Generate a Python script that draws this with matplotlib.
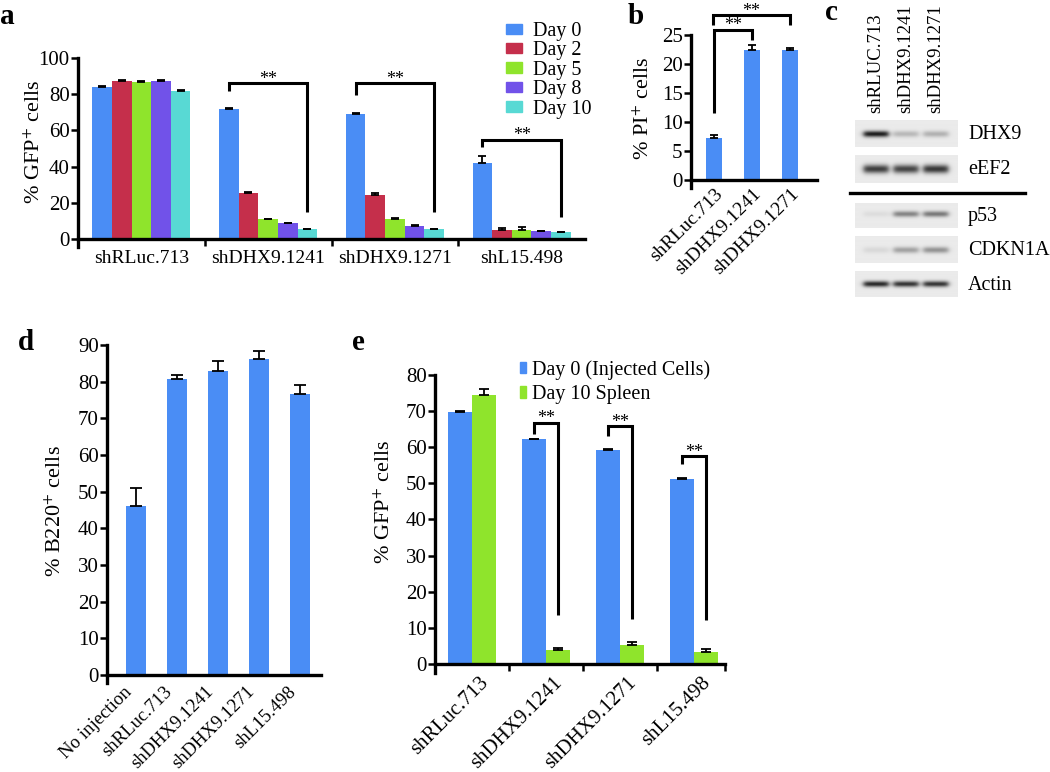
import numpy as np
import matplotlib
matplotlib.use('Agg')
import matplotlib.pyplot as plt
import matplotlib.transforms as mtrans
from matplotlib.patches import Patch

plt.rcParams['font.family'] = ['Liberation Serif', 'DejaVu Serif']
plt.rcParams['mathtext.fontset'] = 'stix'

# ------------------------------------------------------------------ data
# panel a
a_groups = ['shRLuc.713', 'shDHX9.1241', 'shDHX9.1271', 'shL15.498']
a_days = ['Day 0', 'Day 2', 'Day 5', 'Day 8', 'Day 10']
a_day0 = [83.8, 71.6, 69.0, 42.0]
a_day2 = [87.5, 25.5, 24.5, 5.0]
a_day5 = [86.9, 11.0, 11.0, 5.0]
a_day8 = [87.2, 8.7, 7.4, 4.2]
a_day10 = [81.9, 5.4, 5.5, 3.8]
a_err0 = [1.0, 0.8, 0.5, 3.6]
a_err2 = [0.3, 0.5, 1.2, 1.0]
a_err5 = [0.6, 0.3, 0.6, 1.4]
a_err8 = [0.4, 0.3, 0.4, 0.3]
a_err10 = [0.5, 0.2, 0.2, 0.3]
a_sig_groups = [1, 2, 3]
a_sig_top = [86.0, 86.0, 54.7]
a_sig_left = [82.0, 79.5, 50.8]
a_sig_right = [15.0, 15.0, 12.2]

# panel b
b_labels = ['shRLuc.713', 'shDHX9.1241', 'shDHX9.1271']
b_values = [7.2, 22.4, 22.4]
b_err = [0.6, 0.9, 0.3]

# panel c (western blot band intensities, 0 = none, 1 = saturated)
c_lanes = ['shRLUC.713', 'shDHX9.1241', 'shDHX9.1271']
c_rows = ['DHX9', 'eEF2', 'p53', 'CDKN1A', 'Actin']
c_dhx9 = [0.90, 0.22, 0.25]
c_eef2 = [0.75, 0.72, 0.78]
c_p53 = [0.06, 0.45, 0.50]
c_cdkn1a = [0.08, 0.32, 0.38]
c_actin = [0.85, 0.80, 0.80]

# panel d
d_labels = ['No injection', 'shRLuc.713', 'shDHX9.1241', 'shDHX9.1271', 'shL15.498']
d_values = [46.0, 80.8, 82.9, 86.3, 76.6]
d_err = [5.1, 0.9, 2.6, 2.0, 2.4]

# panel e
e_labels = ['shRLuc.713', 'shDHX9.1241', 'shDHX9.1271', 'shL15.498']
e_series = ['Day 0 (Injected Cells)', 'Day 10 Spleen']
e_day0 = [69.7, 62.2, 59.3, 51.3]
e_day10 = [74.6, 3.8, 5.2, 3.2]
e_err0 = [0.2, 0.2, 0.2, 0.2]
e_err10 = [1.6, 0.6, 1.0, 0.9]
e_sig_groups = [1, 2, 3]
e_sig_top = [66.7, 65.8, 57.5]
e_sig_left = [63.8, 63.0, 55.3]
e_sig_right = [13.6, 12.4, 12.2]

# ------------------------------------------------------------------ style
BLUE = '#4a8df5'
RED = '#c52f4b'
GREEN = '#8fe42c'
PURPLE = '#7152e9'
CYAN = '#58d9d4'
day_colors = [BLUE, RED, GREEN, PURPLE, CYAN]

W, H = 1050, 772
fig = plt.figure(figsize=(W / 100, H / 100), dpi=100)

SPINE = 2.4
YTICKFS = 15
XTICKFS = 14


def add_ax(l, t, r, b):
    return fig.add_axes([l / W, 1 - b / H, (r - l) / W, (b - t) / H])


def style(ax):
    for s in ['top', 'right']:
        ax.spines[s].set_visible(False)
    ax.spines['left'].set_linewidth(SPINE)
    ax.spines['bottom'].set_linewidth(SPINE)
    ax.spines['bottom'].set_position(('data', 0))
    ax.tick_params(axis='y', direction='out', length=5, width=1.8, labelsize=YTICKFS, pad=1)
    ax.tick_params(axis='x', direction='out', length=5, width=1.8, labelsize=XTICKFS)
    ax.patch.set_alpha(0)


def bracket(ax, x1, x2, ytop, yl, yr, fs=13):
    ax.plot([x1, x1, x2, x2], [yl, ytop, ytop, yr], color='k', lw=2.2,
            clip_on=False, solid_joinstyle='miter', solid_capstyle='butt')
    ax.annotate('**', xy=((x1 + x2) / 2, ytop), xytext=(0, 3), textcoords='offset points',
                ha='center', va='center', fontsize=fs, annotation_clip=False)


def shift_labels(ax, dx_px, dy_px, minor=False):
    off = mtrans.ScaledTranslation(dx_px / 100, -dy_px / 100, fig.dpi_scale_trans)
    for lab in ax.get_xticklabels(minor=minor):
        lab.set_transform(lab.get_transform() + off)


def ylab(x, y, s):
    fig.text(x / W, 1 - y / H, s, rotation=90, ha='center', va='center', fontsize=16)


def letter(x, y, s):
    fig.text(x / W, 1 - y / H, s, ha='center', va='center', fontsize=21, fontweight='bold')


EKW = dict(ecolor='k', elinewidth=1.3, capthick=1.3)

# ------------------------------------------------------------------ panel a
ax = add_ax(78, 58, 585, 247)
style(ax)
xg = np.arange(len(a_groups))
bw = 0.155
a_vals = [a_day0, a_day2, a_day5, a_day8, a_day10]
a_errs = [a_err0, a_err2, a_err5, a_err8, a_err10]
for i in range(5):
    ax.bar(xg + (i - 2) * bw, a_vals[i], bw, color=day_colors[i], label=a_days[i],
           yerr=[np.zeros(4), a_errs[i]], capsize=3, error_kw=EKW)
ax.set_xlim(-0.5, 3.5)
ax.set_ylim(-4.4, 100)
ax.set_yticks([0, 20, 40, 60, 80, 100])
ax.set_xticks([0.5, 1.5, 2.5])
ax.set_xticklabels([])
ax.set_xticks(xg, minor=True)
ax.set_xticklabels(a_groups, minor=True)
ax.tick_params(axis='x', which='minor', length=0, pad=8, labelsize=XTICKFS)
for g, t, l, r in zip(a_sig_groups, a_sig_top, a_sig_left, a_sig_right):
    bracket(ax, g - 2 * bw, g + 2 * bw, t, l, r)
ylab(35, 142, '% GFP$^{+}$ cells')
letter(7, 16, 'a')
handles = [Patch(color=c) for c in day_colors]
fig.legend(handles, a_days, loc='upper left', bbox_to_anchor=(506 / W, 1 - 22 / H),
           frameon=False, fontsize=14.5, handlelength=0.78, handleheight=0.42,
           handletextpad=0.55, labelspacing=0.02, borderpad=0, borderaxespad=0)

# ------------------------------------------------------------------ panel b
ax = add_ax(691, 35, 817, 188)
style(ax)
xb = np.arange(len(b_labels))
ax.bar(xb, b_values, 0.42, color=BLUE, yerr=[np.zeros(3), b_err], capsize=3, error_kw=EKW)
ax.set_xlim(-0.605, 2.71)
ax.set_ylim(-1.4, 25)
ax.set_yticks([0, 5, 10, 15, 20, 25])
ax.set_xticks(xb)
ax.set_xticklabels(b_labels, rotation=45, ha='right', va='top', rotation_mode='anchor')
ax.tick_params(axis='x', length=0, pad=4)
bracket(ax, 0, 1, 25.9, 11.5, 24.2)
bracket(ax, -0.02, 2, 28.4, 26.7, 26.7)
ylab(644, 108, '% PI$^{+}$ cells')
letter(636, 17, 'b')

# ------------------------------------------------------------------ panel c
axc = fig.add_axes([0, 0, 1, 1])
axc.set_xlim(0, W)
axc.set_ylim(H, 0)
axc.axis('off')
axc.patch.set_alpha(0)
box_l, box_r = 855, 958
lane_x = [876, 906, 936]
row_boxes = [(120, 147, 134, 3.2), (155, 183, 169, 4.4), (203, 228, 214, 3.0),
             (236, 263, 250, 3.2), (271, 297, 284, 3.0)]
c_data = [c_dhx9, c_eef2, c_p53, c_cdkn1a, c_actin]
for (top, bot, yc, sy), vals, name in zip(row_boxes, c_data, c_rows):
    xs = np.linspace(box_l, box_r, 206)
    ys = np.linspace(top, bot, 60)
    X, Y = np.meshgrid(xs, ys)
    img = np.full(X.shape, 0.92)
    for lx, v in zip(lane_x, vals):
        wx = 1 / (1 + np.exp((np.abs(X - lx) - 12.5) / 1.5))
        wy = np.exp(-((Y - yc) / sy) ** 2)
        img -= 0.9 * v * wx * wy
    axc.imshow(img, extent=(box_l, box_r, bot, top), cmap='gray', vmin=0, vmax=1,
               aspect='auto', interpolation='bilinear')
    axc.text(968, (top + bot) / 2 + 1, name, ha='left', va='center', fontsize=14.5)
axc.plot([850, 1025], [193, 193], color='k', lw=2.4)
for lx, lab in zip(lane_x, c_lanes):
    axc.text(lx, 113, lab, rotation=90, ha='center', va='bottom', fontsize=13.5)
letter(831, 13, 'c')

# ------------------------------------------------------------------ panel d
ax = add_ax(107, 345, 321, 683)
style(ax)
xd = np.arange(len(d_labels))
ax.bar(xd, d_values, 0.49, color=BLUE, yerr=[np.zeros(5), d_err], capsize=4.5, error_kw=EKW)
ax.set_xlim(-0.707, 4.51)
ax.set_ylim(-2.2, 90)
ax.set_yticks(np.arange(0, 91, 10))
ax.set_xticks(xd)
ax.set_xticklabels(d_labels, rotation=45, ha='right', va='top', rotation_mode='anchor')
ax.tick_params(axis='x', length=0, pad=6, labelsize=13.5)
shift_labels(ax, -13, 0)
ylab(56, 511, '% B220$^{+}$ cells')
letter(26, 343, 'd')

# ------------------------------------------------------------------ panel e
ax = add_ax(435, 375, 725, 673)
style(ax)
xe = np.arange(len(e_labels))
ew = 0.32
ax.bar(xe - ew / 2, e_day0, ew, color=BLUE, label=e_series[0],
       yerr=[np.zeros(4), e_err0], capsize=3.5, error_kw=EKW)
ax.bar(xe + ew / 2, e_day10, ew, color=GREEN, label=e_series[1],
       yerr=[np.zeros(4), e_err10], capsize=3.5, error_kw=EKW)
ax.set_xlim(-0.5, 3.42)
ax.set_ylim(-2.5, 80)
ax.set_yticks(np.arange(0, 81, 10))
ax.set_xticks([0.5, 1.5, 2.5, 3.42])
ax.set_xticklabels([])
ax.set_xticks(xe, minor=True)
ax.set_xticklabels(e_labels, minor=True, rotation=45, ha='right', va='top',
                   rotation_mode='anchor')
ax.tick_params(axis='x', which='minor', length=0, pad=7, labelsize=15)
shift_labels(ax, 7, 0, minor=True)
for g, t, l, r in zip(e_sig_groups, e_sig_top, e_sig_left, e_sig_right):
    bracket(ax, g - ew / 2, g + ew / 2, t, l, r)
ylab(385, 502, '% GFP$^{+}$ cells')
letter(358, 343, 'e')
fig.legend([Patch(color=BLUE), Patch(color=GREEN)], e_series, loc='upper left',
           bbox_to_anchor=(520 / W, 1 - 360 / H), frameon=False, fontsize=14.5,
           handlelength=0.31, handleheight=0.5, handletextpad=0.3, labelspacing=0.28,
           borderpad=0, borderaxespad=0)

fig.savefig('out.png', dpi=100)
